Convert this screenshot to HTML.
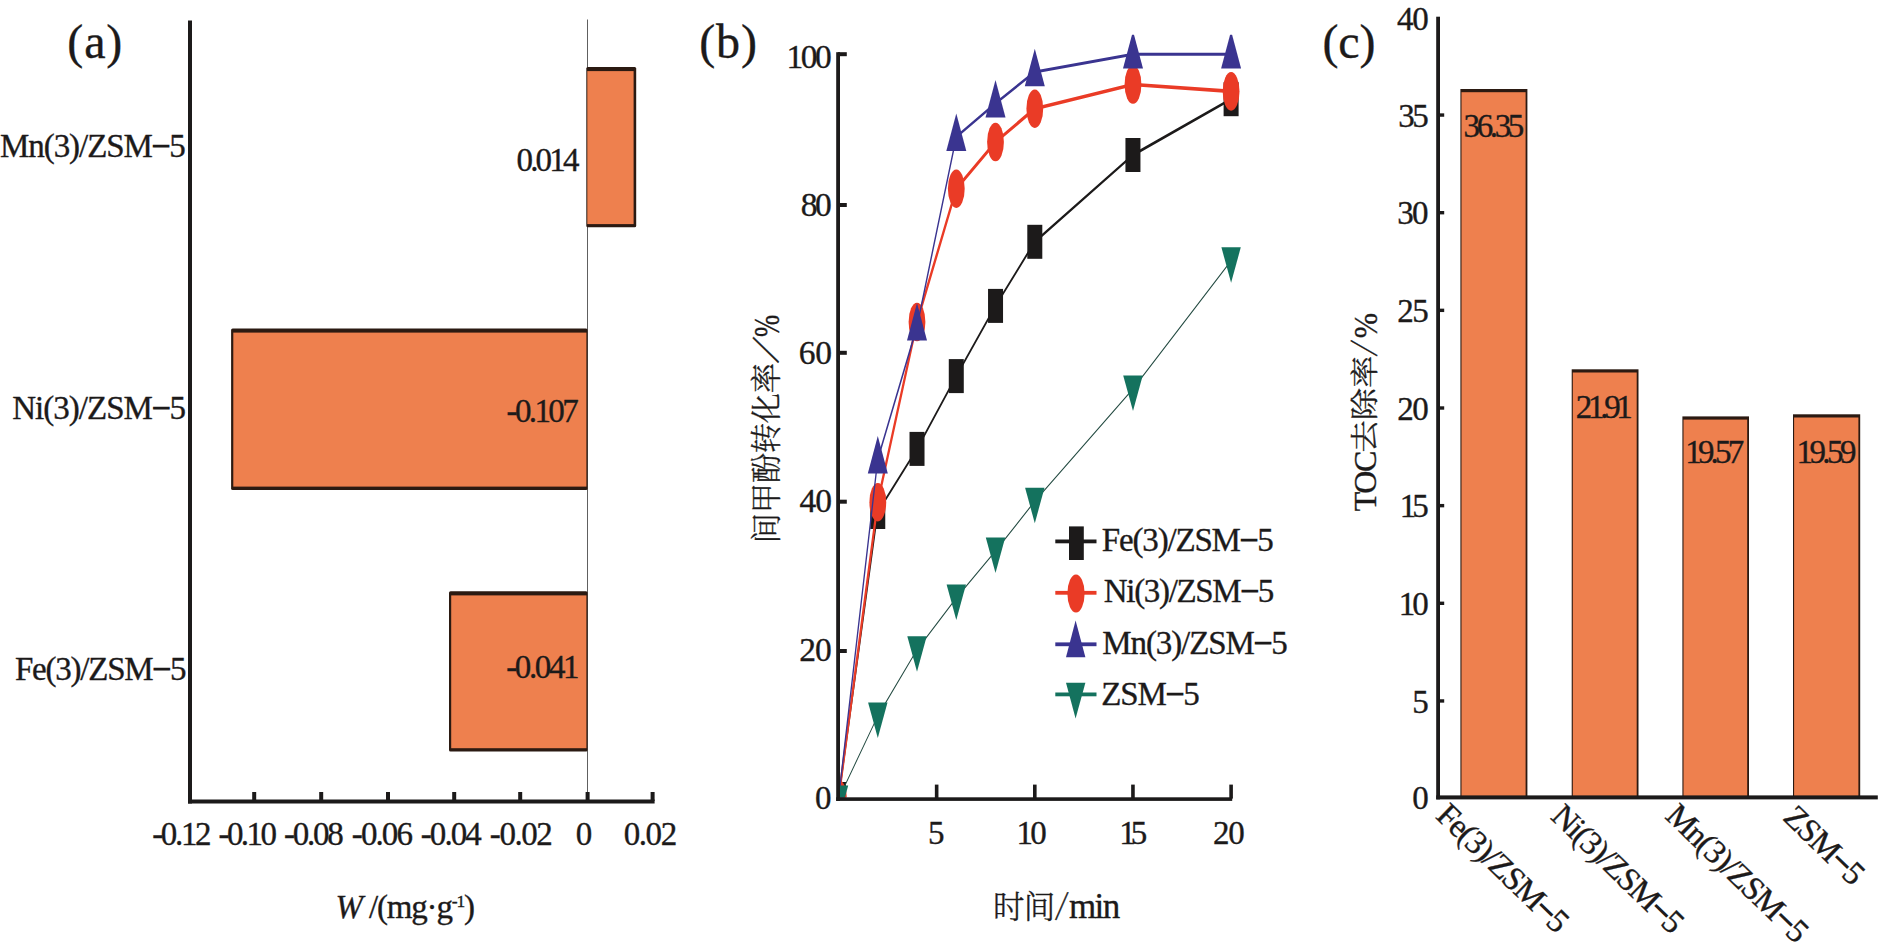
<!DOCTYPE html>
<html lang="zh">
<head>
<meta charset="utf-8">
<title>Figure: (a) W /(mg·g-1), (b) 间甲酚转化率/% vs 时间/min, (c) TOC去除率/%</title>
<style>
html,body{margin:0;padding:0;background:#fff;}
body{width:1890px;height:945px;overflow:hidden;}
svg{display:block;font-family:"Liberation Serif", "Noto Serif CJK SC", serif;}
svg text{white-space:pre;stroke:#1c1a1a;stroke-width:0.35px;}
</style>
</head>
<body>
<svg width="1890" height="945" viewBox="0 0 1890 945">
<rect x="0" y="0" width="1890" height="945" fill="#ffffff"/>
<g id="panel-a">
<rect x="587.00" y="19.50" width="0.90" height="781.00" fill="#4f4f4f" />
<rect x="586.30" y="66.90" width="49.90" height="160.40" fill="#2b1a12" rx="1.6"/>
<rect x="587.30" y="71.10" width="46.30" height="153.00" fill="#ee804e" />
<rect x="231.10" y="328.40" width="356.50" height="161.60" fill="#2b1a12" rx="1.6"/>
<rect x="233.30" y="332.60" width="353.10" height="154.00" fill="#ee804e" />
<rect x="449.00" y="591.20" width="138.60" height="160.40" fill="#2b1a12" rx="1.6"/>
<rect x="451.20" y="595.40" width="135.20" height="152.80" fill="#ee804e" />
<rect x="188.00" y="20.50" width="4.00" height="783.00" fill="#1c1a1a" />
<rect x="188.00" y="799.50" width="466.60" height="4.00" fill="#1c1a1a" />
<rect x="252.20" y="792.00" width="4.00" height="9.00" fill="#1c1a1a" />
<rect x="319.20" y="792.00" width="4.00" height="9.00" fill="#1c1a1a" />
<rect x="386.00" y="792.00" width="4.00" height="9.00" fill="#1c1a1a" />
<rect x="452.20" y="792.00" width="4.00" height="9.00" fill="#1c1a1a" />
<rect x="518.20" y="792.00" width="4.00" height="9.00" fill="#1c1a1a" />
<rect x="585.60" y="792.00" width="4.00" height="9.00" fill="#1c1a1a" />
<rect x="650.60" y="792.00" width="4.00" height="9.00" fill="#1c1a1a" />
<text x="0.07" y="157.0" font-size="33" letter-spacing="-1.07" fill="#1c1a1a" >Mn(3)/ZSM<tspan stroke-width="1.25">−</tspan>5</text>
<text x="12.27" y="418.9" font-size="33" letter-spacing="-0.98" fill="#1c1a1a" >Ni(3)/ZSM<tspan stroke-width="1.25">−</tspan>5</text>
<text x="14.97" y="679.7" font-size="33" letter-spacing="-1.22" fill="#1c1a1a" >Fe(3)/ZSM<tspan stroke-width="1.25">−</tspan>5</text>
<text x="516.46" y="170.6" font-size="33" letter-spacing="-2.80" fill="#1c1a1a" >0.014</text>
<text x="506.56" y="421.8" font-size="33" letter-spacing="-2.62" fill="#1c1a1a" >-0.107</text>
<text x="506.16" y="678.4" font-size="33" letter-spacing="-2.36" fill="#1c1a1a" >-0.041</text>
<text x="152.26" y="845.0" font-size="33" letter-spacing="-2.37" fill="#1c1a1a" >-0.12</text>
<text x="218.56" y="845.0" font-size="33" letter-spacing="-2.60" fill="#1c1a1a" >-0.10</text>
<text x="284.06" y="845.0" font-size="33" letter-spacing="-2.23" fill="#1c1a1a" >-0.08</text>
<text x="351.86" y="845.0" font-size="33" letter-spacing="-1.93" fill="#1c1a1a" >-0.06</text>
<text x="420.86" y="845.0" font-size="33" letter-spacing="-1.98" fill="#1c1a1a" >-0.04</text>
<text x="489.86" y="845.0" font-size="33" letter-spacing="-1.45" fill="#1c1a1a" >-0.02</text>
<text x="575.85" y="845.0" font-size="33" letter-spacing="0.00" fill="#1c1a1a" >0</text>
<text x="623.76" y="845.0" font-size="33" letter-spacing="-1.45" fill="#1c1a1a" >0.02</text>
<text x="335.5" y="918.1" font-size="33" fill="#1c1a1a" textLength="139.5" lengthAdjust="spacing"><tspan font-style="italic">W</tspan> /(mg·g<tspan font-size="17.5" dy="-11.5">-1</tspan><tspan dy="11.5">)</tspan></text>
<text x="67.30" y="57.9" font-size="48" letter-spacing="0.87" fill="#1c1a1a" >(a)</text>
</g>
<g id="panel-b">
<clipPath id="clipb"><rect x="840" y="34.8" width="420" height="762.6"/></clipPath>
<g clip-path="url(#clipb)">
<polyline transform="translate(838.5,0) scale(0.44,1)" fill="none" stroke-linejoin="round" points="0.0,799.0 89.2,512.0 178.5,448.9 267.7,376.1 356.9,305.9 446.1,241.8 669.2,155.0 892.3,99.2" stroke="#1c1a1a" stroke-width="2.9"/>
<rect x="831.00" y="782.00" width="15.00" height="34.00" fill="#1c1a1a" />
<rect x="870.26" y="495.00" width="15.00" height="34.00" fill="#1c1a1a" />
<rect x="909.52" y="431.90" width="15.00" height="34.00" fill="#1c1a1a" />
<rect x="948.78" y="359.10" width="15.00" height="34.00" fill="#1c1a1a" />
<rect x="988.04" y="288.90" width="15.00" height="34.00" fill="#1c1a1a" />
<rect x="1027.30" y="224.80" width="15.00" height="34.00" fill="#1c1a1a" />
<rect x="1125.45" y="138.00" width="15.00" height="34.00" fill="#1c1a1a" />
<rect x="1223.60" y="82.20" width="15.00" height="34.00" fill="#1c1a1a" />
<polyline transform="translate(838.5,0) scale(0.62,1)" fill="none" stroke-linejoin="round" points="0.0,799.0 63.3,502.2 126.6,322.0 190.0,188.7 253.3,142.0 316.6,108.7 474.9,84.5 633.2,91.4" stroke="#ea3b26" stroke-width="3.6"/>
<ellipse cx="838.5" cy="799.0" rx="8.4" ry="19.3" fill="#ea3b26"/>
<ellipse cx="877.8" cy="502.2" rx="8.4" ry="19.3" fill="#ea3b26"/>
<ellipse cx="917.0" cy="322.0" rx="8.4" ry="19.3" fill="#ea3b26"/>
<ellipse cx="956.3" cy="188.7" rx="8.4" ry="19.3" fill="#ea3b26"/>
<ellipse cx="995.5" cy="142.0" rx="8.4" ry="19.3" fill="#ea3b26"/>
<ellipse cx="1034.8" cy="108.7" rx="8.4" ry="19.3" fill="#ea3b26"/>
<ellipse cx="1133.0" cy="84.5" rx="8.4" ry="19.3" fill="#ea3b26"/>
<ellipse cx="1231.1" cy="91.4" rx="8.4" ry="19.3" fill="#ea3b26"/>
<polyline transform="translate(838.5,0) scale(0.44,1)" fill="none" stroke-linejoin="round" points="0.0,799.0 89.2,459.4 178.5,326.3 267.7,136.8 356.9,103.3 446.1,71.9 669.2,54.2 892.3,54.2" stroke="#3a3490" stroke-width="3.0"/>
<polygon points="838.5,775.8 848.5,813.2 828.5,813.2" fill="#3a3490"/>
<polygon points="877.8,436.1 887.8,473.6 867.8,473.6" fill="#3a3490"/>
<polygon points="917.0,303.1 927.0,340.6 907.0,340.6" fill="#3a3490"/>
<polygon points="956.3,113.6 966.3,151.1 946.3,151.1" fill="#3a3490"/>
<polygon points="995.5,80.0 1005.5,117.5 985.5,117.5" fill="#3a3490"/>
<polygon points="1034.8,48.7 1044.8,86.2 1024.8,86.2" fill="#3a3490"/>
<polygon points="1133.0,31.0 1143.0,68.5 1123.0,68.5" fill="#3a3490"/>
<polygon points="1231.1,31.0 1241.1,68.5 1221.1,68.5" fill="#3a3490"/>
<polyline transform="translate(838.5,0) scale(0.7,1)" fill="none" stroke-linejoin="round" points="0.0,799.0 56.1,716.0 112.2,649.7 168.3,597.9 224.3,551.0 280.4,501.3 420.6,388.9 560.9,260.8" stroke="#234a41" stroke-width="1.3"/>
<polygon points="828.8,785.5 848.2,785.5 838.5,821.0" fill="#14725e"/>
<polygon points="868.1,702.5 887.5,702.5 877.8,738.0" fill="#14725e"/>
<polygon points="907.3,636.2 926.7,636.2 917.0,671.7" fill="#14725e"/>
<polygon points="946.6,584.4 966.0,584.4 956.3,619.9" fill="#14725e"/>
<polygon points="985.8,537.5 1005.2,537.5 995.5,573.0" fill="#14725e"/>
<polygon points="1025.1,487.8 1044.5,487.8 1034.8,523.3" fill="#14725e"/>
<polygon points="1123.2,375.4 1142.7,375.4 1133.0,410.9" fill="#14725e"/>
<polygon points="1221.4,247.3 1240.8,247.3 1231.1,282.8" fill="#14725e"/>
</g>
<rect x="836.20" y="52.20" width="3.80" height="748.80" fill="#1c1a1a" />
<rect x="836.20" y="797.30" width="396.00" height="3.60" fill="#1c1a1a" />
<rect x="838.00" y="52.20" width="8.80" height="4.00" fill="#1c1a1a" />
<rect x="838.00" y="203.00" width="8.80" height="4.00" fill="#1c1a1a" />
<rect x="838.00" y="350.80" width="8.80" height="4.00" fill="#1c1a1a" />
<rect x="838.00" y="499.70" width="8.80" height="4.00" fill="#1c1a1a" />
<rect x="838.00" y="649.00" width="8.80" height="4.00" fill="#1c1a1a" />
<rect x="934.85" y="784.60" width="3.60" height="14.00" fill="#1c1a1a" />
<rect x="1033.00" y="784.60" width="3.60" height="14.00" fill="#1c1a1a" />
<rect x="1131.15" y="784.60" width="3.60" height="14.00" fill="#1c1a1a" />
<rect x="1229.30" y="784.60" width="3.60" height="14.00" fill="#1c1a1a" />
<text x="786.57" y="67.8" font-size="33.5" letter-spacing="-2.53" fill="#1c1a1a" >100</text>
<text x="800.84" y="216.0" font-size="33.5" letter-spacing="-2.59" fill="#1c1a1a" >80</text>
<text x="798.73" y="364.2" font-size="33.5" letter-spacing="-0.28" fill="#1c1a1a" >60</text>
<text x="799.57" y="512.4" font-size="33.5" letter-spacing="-1.12" fill="#1c1a1a" >40</text>
<text x="799.13" y="660.8" font-size="33.5" letter-spacing="-0.88" fill="#1c1a1a" >20</text>
<text x="814.90" y="809.2" font-size="33" letter-spacing="0.00" fill="#1c1a1a" >0</text>
<text x="927.89" y="843.9" font-size="33" letter-spacing="0.00" fill="#1c1a1a" >5</text>
<text x="1016.51" y="843.9" font-size="33" letter-spacing="-2.68" fill="#1c1a1a" >10</text>
<text x="1119.21" y="843.9" font-size="33" letter-spacing="-4.87" fill="#1c1a1a" >15</text>
<text x="1212.96" y="843.9" font-size="33" letter-spacing="-1.22" fill="#1c1a1a" >20</text>
<text x="993.04" y="917.94" font-size="31.5" letter-spacing="-0.88" fill="#1c1a1a" font-family="Liberation Serif, Noto Serif CJK SC, serif" font-weight="300" stroke="none">时间</text>
<text transform="translate(1061.90,905.95) rotate(6.6)" x="-5.27" y="9.15" font-size="30.7" font-family="Noto Serif CJK SC, serif" font-weight="300" stroke="none" fill="#1c1a1a">/</text>
<text x="1069.03" y="918.00" font-size="35" letter-spacing="-1.63" fill="#1c1a1a">min</text>
<g transform="translate(776.5,539.8) rotate(-90)">
<text x="-3.60" y="0.30" font-size="30.3" letter-spacing="-0.26" fill="#1c1a1a" font-family="Liberation Serif, Noto Serif CJK SC, serif" font-weight="300" stroke="none">间甲酚转化率</text>
<text transform="translate(190.00,-10.80) rotate(27.0)" x="-6.19" y="10.75" font-size="36.0" font-family="Noto Serif CJK SC, serif" font-weight="300" stroke="none" fill="#1c1a1a">/</text>
<text transform="translate(203.80,2.00) scale(0.761,1)" x="-1.20" y="0" font-size="35" fill="#1c1a1a">%</text>
</g>
<rect x="1055.30" y="539.50" width="41.20" height="3.80" fill="#1c1a1a" />
<rect x="1055.30" y="590.90" width="41.20" height="3.80" fill="#ea3b26" />
<rect x="1055.30" y="642.40" width="41.20" height="3.80" fill="#3a3490" />
<rect x="1055.30" y="692.50" width="41.20" height="3.80" fill="#14725e" />
<rect x="1069.00" y="526.40" width="14.80" height="33.60" fill="#1c1a1a" />
<ellipse cx="1076" cy="593.5" rx="8.6" ry="19" fill="#ea3b26"/>
<polygon points="1075.6,620.6 1085.4,657.2 1066,657.2" fill="#3a3490"/>
<polygon points="1066,682.8 1085.4,682.8 1075.6,718.4" fill="#14725e"/>
<text x="1101.87" y="550.7" font-size="33" letter-spacing="-1.18" fill="#1c1a1a" >Fe(3)/ZSM<tspan stroke-width="1.25">−</tspan>5</text>
<text x="1103.77" y="602.0" font-size="33" letter-spacing="-1.32" fill="#1c1a1a" >Ni(3)/ZSM<tspan stroke-width="1.25">−</tspan>5</text>
<text x="1102.37" y="653.6" font-size="33" letter-spacing="-1.12" fill="#1c1a1a" >Mn(3)/ZSM<tspan stroke-width="1.25">−</tspan>5</text>
<text x="1101.25" y="705.1" font-size="33" letter-spacing="-1.13" fill="#1c1a1a" >ZSM<tspan stroke-width="1.25">−</tspan>5</text>
<text x="699.30" y="57.9" font-size="48" letter-spacing="0.82" fill="#1c1a1a" >(b)</text>
</g>
<g id="panel-c">
<rect x="1460.40" y="89.00" width="67.00" height="708.00" fill="#2b1a12" />
<rect x="1461.50" y="92.20" width="64.10" height="704.80" fill="#ee804e" />
<rect x="1571.70" y="369.30" width="66.80" height="427.70" fill="#2b1a12" />
<rect x="1572.80" y="372.50" width="63.90" height="424.50" fill="#ee804e" />
<rect x="1682.40" y="416.40" width="66.60" height="380.60" fill="#2b1a12" />
<rect x="1683.50" y="419.60" width="63.70" height="377.40" fill="#ee804e" />
<rect x="1793.00" y="414.30" width="67.20" height="382.70" fill="#2b1a12" />
<rect x="1794.10" y="417.50" width="64.30" height="379.50" fill="#ee804e" />
<rect x="1436.20" y="16.70" width="3.80" height="782.70" fill="#1c1a1a" />
<rect x="1436.20" y="795.40" width="441.60" height="4.00" fill="#1c1a1a" />
<rect x="1438.00" y="699.25" width="6.20" height="3.40" fill="#1c1a1a" />
<rect x="1438.00" y="601.60" width="6.20" height="3.40" fill="#1c1a1a" />
<rect x="1438.00" y="503.95" width="6.20" height="3.40" fill="#1c1a1a" />
<rect x="1438.00" y="406.30" width="6.20" height="3.40" fill="#1c1a1a" />
<rect x="1438.00" y="308.65" width="6.20" height="3.40" fill="#1c1a1a" />
<rect x="1438.00" y="211.00" width="6.20" height="3.40" fill="#1c1a1a" />
<rect x="1438.00" y="113.35" width="6.20" height="3.40" fill="#1c1a1a" />
<text x="1396.98" y="29.9" font-size="33" letter-spacing="-1.34" fill="#1c1a1a" >40</text>
<text x="1398.15" y="126.5" font-size="33" letter-spacing="-2.41" fill="#1c1a1a" >35</text>
<text x="1397.15" y="224.2" font-size="33" letter-spacing="-1.52" fill="#1c1a1a" >30</text>
<text x="1397.26" y="321.9" font-size="33" letter-spacing="-1.52" fill="#1c1a1a" >25</text>
<text x="1397.26" y="419.5" font-size="33" letter-spacing="-1.62" fill="#1c1a1a" >20</text>
<text x="1399.71" y="517.1" font-size="33" letter-spacing="-3.97" fill="#1c1a1a" >15</text>
<text x="1398.81" y="614.8" font-size="33" letter-spacing="-3.17" fill="#1c1a1a" >10</text>
<text x="1412.24" y="712.5" font-size="33" letter-spacing="0.00" fill="#1c1a1a" >5</text>
<text x="1412.20" y="809.0" font-size="33" letter-spacing="0.00" fill="#1c1a1a" >0</text>
<text x="1463.55" y="136.8" font-size="33" letter-spacing="-3.37" fill="#1c1a1a" >36.35</text>
<text x="1575.76" y="418.3" font-size="33" letter-spacing="-4.29" fill="#1c1a1a" >21.91</text>
<text x="1685.21" y="462.6" font-size="33" letter-spacing="-3.81" fill="#1c1a1a" >19.57</text>
<text x="1796.41" y="462.6" font-size="33" letter-spacing="-3.53" fill="#1c1a1a" >19.59</text>
<g transform="translate(1375.0,510.7) rotate(-90)">
<text x="-0.60" y="1.10" font-size="32" letter-spacing="-1.45" fill="#1c1a1a">TOC</text>
<text transform="translate(59.60,0.00) scale(1.114,1)" x="-1.36" y="0" font-size="29" fill="#1c1a1a" font-family="Liberation Serif, Noto Serif CJK SC, serif" font-weight="300" stroke="none">去除率</text>
<text transform="translate(162.70,-11.00) rotate(12.5)" x="-5.28" y="9.17" font-size="30.7" font-family="Noto Serif CJK SC, serif" font-weight="300" stroke="none" fill="#1c1a1a">/</text>
<text transform="translate(173.40,1.60) scale(0.908,1)" x="-1.15" y="0" font-size="33.5" fill="#1c1a1a">%</text>
</g>
<text transform="translate(1435.2,817.8) rotate(44)" x="-0.93" y="0" font-size="33" letter-spacing="-1.43" fill="#1c1a1a">Fe(3)/ZSM<tspan stroke-width="1.25">−</tspan>5</text>
<text transform="translate(1550.2,818.6) rotate(44)" x="-0.93" y="0" font-size="33" letter-spacing="-1.43" fill="#1c1a1a">Ni(3)/ZSM<tspan stroke-width="1.25">−</tspan>5</text>
<text transform="translate(1664.6,818.1) rotate(44)" x="-0.93" y="0" font-size="33" letter-spacing="-1.32" fill="#1c1a1a">Mn(3)/ZSM<tspan stroke-width="1.25">−</tspan>5</text>
<text transform="translate(1782.8,820.0) rotate(44)" x="-1.55" y="0" font-size="33" letter-spacing="-1.26" fill="#1c1a1a">ZSM<tspan stroke-width="1.25">−</tspan>5</text>
<text x="1322.50" y="57.9" font-size="48" letter-spacing="-0.17" fill="#1c1a1a" >(c)</text>
</g>
</svg>
</body>
</html>
